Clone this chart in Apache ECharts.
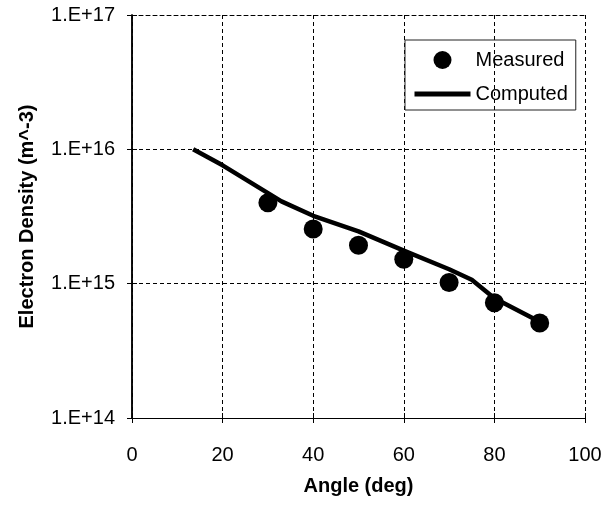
<!DOCTYPE html>
<html lang="en">
<head>
    <meta charset="utf-8">
    <title>Electron Density vs Angle</title>
    <script src="https://cdn.jsdelivr.net/npm/echarts@6/dist/echarts.min.js"></script>
    <style>
        body { margin: 0; background: #fff; }
    </style>
</head>
<body>

<div id="main" style="width: 616px;height:508px;"></div>

<script>
    // measured points (angle in deg, density in m^-3)
    var measuredAngle = [30, 40, 50, 60, 70, 80, 90];
    var measuredDensity = [4.0e15, 2.55e15, 1.93e15, 1.52e15, 1.02e15, 7.2e14, 5.1e14];

    // computed curve
    var computedAngle = [13.5, 20, 33, 40, 50, 60, 70, 75, 80, 90];
    var computedDensity = [1.0e16, 7.6e15, 4.1e15, 3.2e15, 2.45e15, 1.76e15, 1.28e15, 1.07e15, 7.8e14, 5.2e14];

    var xTicks = [0, 20, 40, 60, 80, 100];
    var yTicks = [1e14, 1e15, 1e16, 1e17];

    var font = 'Liberation Sans, Arial, sans-serif';
    var dash = [4, 3];

    function pairs(xs, ys) {
        return xs.map(function (x, i) { return [x, ys[i]]; });
    }

    var myChart = echarts.init(document.getElementById('main'));

    var xBase = {
        type: 'value',
        min: xTicks[0],
        max: xTicks[xTicks.length - 1],
        interval: 20,
        axisLine: {show: true, lineStyle: {color: '#000', width: 1}},
        axisTick: {show: true, length: 5, lineStyle: {color: '#000'}}
    };
    var yBase = {
        type: 'log',
        logBase: 10,
        min: yTicks[0],
        max: yTicks[yTicks.length - 1],
        axisLine: {show: true, lineStyle: {color: '#000', width: 1.5}},
        axisTick: {show: true, length: 5, lineStyle: {color: '#000'}}
    };

    var option = {
        animation: false,
        backgroundColor: '#fff',
        grid: {left: 132, right: 31, top: 15, bottom: 90},
        legend: {
            orient: 'vertical',
            left: 405,
            top: 40,
            padding: [10, 8, 6, 7],
            itemGap: 14,
            itemWidth: 56,
            itemHeight: 18,
            borderColor: '#222',
            borderWidth: 1,
            textStyle: {fontFamily: font, fontSize: 20, color: '#000'},
            data: [
                {name: 'Measured', icon: 'circle'},
                {name: 'Computed', itemStyle: {opacity: 0}, lineStyle: {width: 5, color: '#000'}}
            ]
        },
        xAxis: [
            Object.assign({}, xBase, {
                name: 'Angle (deg)',
                nameLocation: 'middle',
                nameGap: 58,
                nameTextStyle: {fontFamily: font, fontSize: 20, fontWeight: 'bold', color: '#000'},
                axisLabel: {fontFamily: font, fontSize: 20, color: '#000', margin: 27},
                splitLine: {show: true, lineStyle: {color: '#000', type: dash, width: 1}}
            }),
            Object.assign({}, xBase, {
                position: 'bottom',
                axisLabel: {show: false},
                axisTick: {show: true, inside: true, length: 5, lineStyle: {color: '#000'}},
                splitLine: {show: false}
            }),
            // dashed top border
            Object.assign({}, xBase, {
                position: 'top',
                axisLine: {show: true, lineStyle: {color: '#000', type: dash, width: 1}},
                axisLabel: {show: false},
                axisTick: {show: false},
                splitLine: {show: false}
            })
        ],
        yAxis: [
            Object.assign({}, yBase, {
                name: 'Electron Density (m^-3)',
                nameLocation: 'middle',
                nameGap: 95,
                nameTextStyle: {fontFamily: font, fontSize: 20, fontWeight: 'bold', color: '#000'},
                axisLabel: {
                    fontFamily: font, fontSize: 20, color: '#000', margin: 17,
                    formatter: function (v) {
                        return '1.E+' + Math.round(Math.log10(v));
                    }
                },
                splitLine: {show: true, lineStyle: {color: '#000', type: dash, width: 1}}
            }),
            Object.assign({}, yBase, {
                position: 'left',
                axisLabel: {show: false},
                axisTick: {show: true, inside: true, length: 5, lineStyle: {color: '#000'}},
                splitLine: {show: false}
            })
        ],
        series: [
            {
                name: 'Computed',
                type: 'line',
                symbol: 'none',
                z: 2,
                lineStyle: {color: '#000', width: 4.5},
                itemStyle: {color: '#000'},
                data: pairs(computedAngle, computedDensity)
            },
            {
                name: 'Measured',
                type: 'scatter',
                symbol: 'circle',
                symbolSize: 19,
                z: 3,
                itemStyle: {color: '#000', opacity: 1},
                data: pairs(measuredAngle, measuredDensity)
            }
        ]
    };

    myChart.setOption(option);
</script>
</body>
</html>
